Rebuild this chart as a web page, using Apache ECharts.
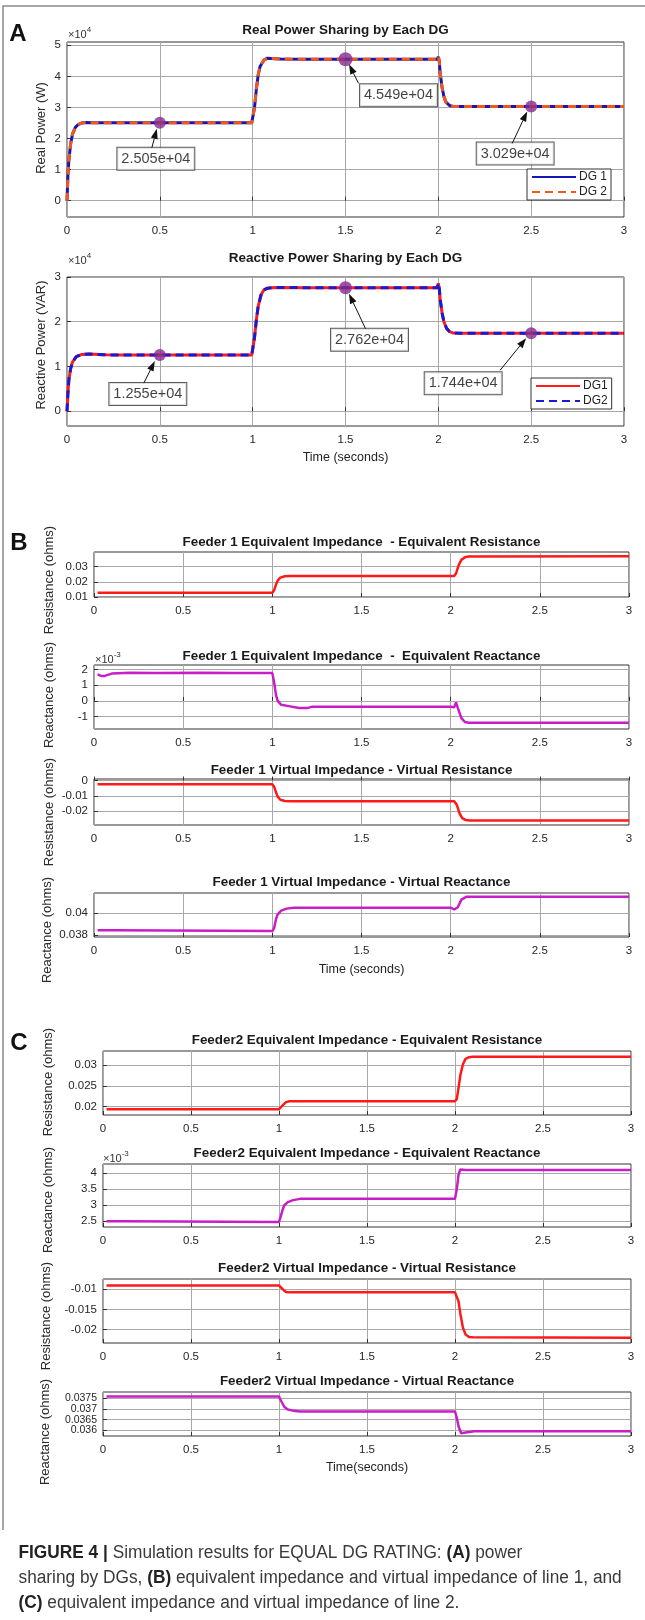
<!DOCTYPE html>
<html>
<head>
<meta charset="utf-8">
<script src="https://cdn.jsdelivr.net/npm/echarts@6/dist/echarts.min.js"></script>
<style>
  html, body { margin: 0; padding: 0; background: #fff; }
  #chart { width: 645px; height: 1620px; }
</style>
</head>
<body>
<div id="chart"></div>
<script>
// ---------- time axis ----------
const timeTicks = [0, 0.5, 1, 1.5, 2, 2.5, 3];

// ---------- (A) power sharing: [time s, value] ----------
const realPowerDG1 = [[0,0],[0.005,8000],[0.01,13000],[0.02,18500],[0.03,21500],[0.045,23600],[0.06,24500],[0.08,25000],[0.1,25120],[0.15,25080],[0.3,25050],[0.995,25050],[1.0,25150],[1.01,30000],[1.02,36000],[1.03,40500],[1.04,43200],[1.06,45200],[1.08,45850],[1.1,45750],[1.15,45550],[1.3,45490],[1.995,45490],[2.0,46300],[2.005,45000],[2.01,41000],[2.02,36500],[2.03,33500],[2.04,31800],[2.06,30600],[2.08,30320],[2.1,30290],[3.0,30290]];
const realPowerDG2 = [[0,0],[0.005,8000],[0.01,13000],[0.02,18500],[0.03,21500],[0.045,23600],[0.06,24500],[0.08,25000],[0.1,25120],[0.15,25080],[0.3,25050],[0.995,25050],[1.0,25150],[1.01,30000],[1.02,36000],[1.03,40500],[1.04,43200],[1.06,45200],[1.08,45850],[1.1,45750],[1.15,45550],[1.3,45490],[1.995,45490],[2.0,46300],[2.005,45000],[2.01,41000],[2.02,36500],[2.03,33500],[2.04,31800],[2.06,30600],[2.08,30320],[2.1,30290],[3.0,30290]];
const realPowerMarks = [[0.5,25050],[1.5,45490],[2.5,30290]];
const realPowerTicks = [0,10000,20000,30000,40000,50000];

const reactivePowerDG1 = [[0,0],[0.005,4000],[0.01,7000],[0.02,9600],[0.03,11000],[0.05,12200],[0.08,12700],[0.12,12800],[0.2,12620],[0.3,12550],[0.995,12550],[1.0,12650],[1.01,16500],[1.02,20500],[1.03,23500],[1.045,26000],[1.06,27100],[1.08,27500],[1.12,27650],[1.3,27620],[1.995,27620],[2.0,28600],[2.005,27500],[2.01,25000],[2.02,22000],[2.03,20000],[2.045,18500],[2.06,17800],[2.08,17500],[2.12,17440],[3.0,17440]];
const reactivePowerDG2 = [[0,0],[0.005,4000],[0.01,7000],[0.02,9600],[0.03,11000],[0.05,12200],[0.08,12700],[0.12,12800],[0.2,12620],[0.3,12550],[0.995,12550],[1.0,12650],[1.01,16500],[1.02,20500],[1.03,23500],[1.045,26000],[1.06,27100],[1.08,27500],[1.12,27650],[1.3,27620],[1.995,27620],[2.0,28600],[2.005,27500],[2.01,25000],[2.02,22000],[2.03,20000],[2.045,18500],[2.06,17800],[2.08,17500],[2.12,17440],[3.0,17440]];
const reactivePowerMarks = [[0.5,12550],[1.5,27620],[2.5,17440]];
const reactivePowerTicks = [0,10000,20000,30000];

// ---------- (B) feeder 1 impedances (ohms) ----------
const feeder1EqResistance = [[0.02,0.0128],[1.0,0.0128],[1.01,0.0145],[1.02,0.018],[1.03,0.0208],[1.045,0.0228],[1.07,0.0237],[1.1,0.0239],[2.02,0.0239],[2.03,0.0255],[2.045,0.031],[2.06,0.0345],[2.08,0.0362],[2.1,0.0368],[3.0,0.0369]];
const feeder1EqResistanceTicks = [0.01,0.02,0.03];

const feeder1EqReactance = [[0.02,0.0017],[0.04,0.0016],[0.06,0.0016],[0.1,0.00175],[0.2,0.0018],[0.35,0.00178],[0.6,0.0018],[0.8,0.00178],[1.0,0.00178],[1.01,0.0012],[1.02,0.0004],[1.03,0.0],[1.05,-0.00025],[1.1,-0.00035],[1.15,-0.00045],[1.2,-0.00045],[1.22,-0.00038],[2.0,-0.00038],[2.02,-0.0004],[2.03,-0.0001],[2.04,-0.00045],[2.06,-0.0011],[2.08,-0.00135],[2.1,-0.0014],[3.0,-0.0014]];
const feeder1EqReactanceTicks = [-0.001,0,0.001,0.002];

const feeder1VirtResistance = [[0.02,-0.0025],[1.0,-0.0025],[1.01,-0.004],[1.02,-0.0075],[1.03,-0.0105],[1.045,-0.0125],[1.07,-0.0133],[1.1,-0.0135],[2.02,-0.0135],[2.025,-0.013],[2.035,-0.016],[2.05,-0.0215],[2.065,-0.0245],[2.085,-0.0258],[2.11,-0.026],[3.0,-0.026]];
const feeder1VirtResistanceTicks = [-0.02,-0.01,0];

const feeder1VirtReactance = [[0.02,0.03842],[0.12,0.03842],[0.125,0.03834],[1.0,0.03834],[1.01,0.0386],[1.02,0.0394],[1.03,0.03985],[1.05,0.0402],[1.08,0.04038],[1.12,0.04046],[2.0,0.04046],[2.02,0.0403],[2.03,0.04012],[2.04,0.0405],[2.06,0.0412],[2.09,0.04147],[3.0,0.04147]];
const feeder1VirtReactanceTicks = [0.038,0.04];

// ---------- (C) feeder 2 impedances (ohms) ----------
const feeder2EqResistance = [[0.02,0.0194],[1.0,0.0194],[1.01,0.0198],[1.025,0.0205],[1.04,0.0211],[1.06,0.0213],[2.0,0.0213],[2.01,0.0218],[2.02,0.0245],[2.03,0.0275],[2.045,0.0302],[2.06,0.0315],[2.08,0.0319],[2.1,0.032],[3.0,0.032]];
const feeder2EqResistanceTicks = [0.02,0.025,0.03];

const feeder2EqReactance = [[0.02,0.0025],[0.12,0.0025],[0.13,0.00248],[1.0,0.00248],[1.01,0.00265],[1.02,0.00285],[1.03,0.003],[1.05,0.0031],[1.08,0.00316],[1.12,0.0032],[2.0,0.0032],[2.01,0.0035],[2.02,0.00395],[2.03,0.00412],[2.04,0.00415],[2.06,0.0041],[3.0,0.0041]];
const feeder2EqReactanceTicks = [0.0025,0.003,0.0035,0.004];

const feeder2VirtResistance = [[0.02,-0.0091],[1.0,-0.0091],[1.01,-0.0095],[1.025,-0.0102],[1.04,-0.0107],[1.06,-0.0108],[2.0,-0.0108],[2.01,-0.0112],[2.02,-0.013],[2.03,-0.016],[2.045,-0.0195],[2.06,-0.0212],[2.08,-0.0218],[2.1,-0.0219],[3.0,-0.022]];
const feeder2VirtResistanceTicks = [-0.02,-0.015,-0.01];

const feeder2VirtReactance = [[0.02,0.03757],[1.0,0.03757],[1.01,0.0374],[1.03,0.0371],[1.05,0.03697],[1.08,0.03692],[1.12,0.03688],[2.0,0.03688],[2.01,0.0366],[2.02,0.0362],[2.035,0.03588],[2.05,0.0359],[2.06,0.03595],[2.11,0.03597],[3.0,0.03597]];
const feeder2VirtReactanceTicks = [0.036,0.0365,0.037,0.0375];

// ---------- texts ----------
const plotTitles = [
  'Real Power Sharing by Each DG',
  'Reactive Power Sharing by Each DG',
  'Feeder 1 Equivalent Impedance  - Equivalent Resistance',
  'Feeder 1 Equivalent Impedance  -  Equivalent Reactance',
  'Feeder 1 Virtual Impedance - Virtual Resistance',
  'Feeder 1 Virtual Impedance - Virtual Reactance',
  'Feeder2 Equivalent Impedance - Equivalent Resistance',
  'Feeder2 Equivalent Impedance - Equivalent Reactance',
  'Feeder2 Virtual Impedance - Virtual Resistance',
  'Feeder2 Virtual Impedance - Virtual Reactance'
];
const yNames = ['Real Power (W)','Reactive Power (VAR)','Resistance (ohms)','Reactance (ohms)',
  'Resistance (ohms)','Reactance (ohms)','Resistance (ohms)','Reactance (ohms)','Resistance (ohms)','Reactance (ohms)'];

// ---------- layout ----------
const grids = [
  {left:67,  top:42,   width:557, height:175},
  {left:67,  top:277,  width:557, height:149},
  {left:94,  top:552,  width:535, height:45},
  {left:94,  top:665,  width:535, height:64},
  {left:94,  top:779,  width:535, height:46},
  {left:94,  top:893,  width:535, height:44},
  {left:103, top:1051, width:528, height:64},
  {left:103, top:1164, width:528, height:63},
  {left:103, top:1279, width:528, height:64},
  {left:103, top:1392, width:528, height:44}
];
const yAxes = [
  {min:-5250,   max:51050,   ticks:realPowerTicks,              unit:1e4},
  {min:-3300,   max:30000,   ticks:reactivePowerTicks,          unit:1e4},
  {min:0.01,    max:0.0397,  ticks:feeder1EqResistanceTicks,    unit:1},
  {min:-0.0018, max:0.0023,  ticks:feeder1EqReactanceTicks,     unit:1e-3},
  {min:-0.029,  max:0.001,   ticks:feeder1VirtResistanceTicks,  unit:1},
  {min:0.0378,  max:0.0418,  ticks:feeder1VirtReactanceTicks,   unit:1},
  {min:0.018,   max:0.0334,  ticks:feeder2EqResistanceTicks,    unit:1},
  {min:0.00232, max:0.00429, ticks:feeder2EqReactanceTicks,     unit:1e-3},
  {min:-0.0233, max:-0.0075, ticks:feeder2VirtResistanceTicks,  unit:1},
  {min:0.03575, max:0.03778, ticks:feeder2VirtReactanceTicks,   unit:1}
];
const titleY = [30, 258, 542, 656, 770, 882.5, 1040.5, 1153, 1268, 1381.5];
const yNamePos = [[41,128],[41,345],[49,580],[49,695],[49,812],[47,930],[48,1082],[48,1200],[46,1316],[45,1432]];

// data-tip boxes and arrows, offsets in px from each marker
const boxOffsetA1 = [[-4,36],[53,36],[-16,47]];
const boxOffsetA2 = [[-12,39],[24,52],[-68,50]];
const arrowA1 = [{tip:[-3,6],tail:[-8,25]},{tip:[3.5,5],tail:[13,24]},{tip:[-4,5],tail:[-19,37]}];
const arrowA2 = [{tip:[-5,6],tail:[-16,28]},{tip:[3.5,6],tail:[20,41]},{tip:[-5,5],tail:[-31,37]}];

const FONT = '"Liberation Sans", Arial, Helvetica, sans-serif';
const RED = '#ff1a1a';
const MAGENTA = '#c81ec8';

function tidy(v) { return String(parseFloat(v.toPrecision(6))); }
function sci(v) {
  const e = Math.floor(Math.log10(Math.abs(v)));
  const m = v / Math.pow(10, e);
  return m.toFixed(3) + 'e' + (e < 0 ? '-' : '+') + String(Math.abs(e)).padStart(2, '0');
}

const xAxis = grids.map((g, i) => ({
  type: 'value', gridIndex: i, min: 0, max: 3, interval: 0.5,
  axisLine: {show: false},
  axisTick: {show: true, inside: true, length: 4, lineStyle: {color: '#333'}},
  axisLabel: {fontSize: 11.5, color: '#262626', margin: 8, fontFamily: FONT,
    showMinLabel: true, showMaxLabel: true, formatter: v => tidy(v)},
  splitLine: {show: true, lineStyle: {color: '#a8a8a8', width: 1}}
}));

const yAxis = yAxes.map((a, i) => ({
  type: 'value', gridIndex: i, min: a.min, max: a.max,
  axisLine: {show: false},
  axisTick: {show: true, inside: true, length: 4, lineStyle: {color: '#333'}, customValues: a.ticks},
  axisLabel: {fontSize: i === 9 ? 10.5 : 11.5, color: '#262626', margin: 6, fontFamily: FONT,
    customValues: a.ticks, hideOverlap: false, formatter: v => tidy(v / a.unit)},
  splitLine: {show: true, lineStyle: {color: '#a8a8a8', width: 1}}
}));

function lineSeries(g, name, data, color, type, width) {
  return {type: 'line', name, xAxisIndex: g, yAxisIndex: g, data, symbol: 'none',
    lineStyle: {color, type, width}, itemStyle: {color}, z: 3, silent: true};
}
function markSeries(g, marks, offsets, sizes) {
  return {type: 'scatter', xAxisIndex: g, yAxisIndex: g, z: 6, silent: true,
    itemStyle: {color: '#84298e'},
    data: marks.map((p, i) => ({value: p, symbolSize: sizes[i],
      label: {show: true, position: 'inside', offset: offsets[i], formatter: d => sci(d.value[1]),
        fontSize: 14.5, fontFamily: FONT, color: '#111', backgroundColor: '#fff',
        borderColor: '#333', borderWidth: 1, padding: [4, 4, 3, 4]}}))};
}

const series = [
  lineSeries(0, 'DG 1', realPowerDG1, '#1616b4', 'solid', 3),
  lineSeries(0, 'DG 2', realPowerDG2, '#ee5a1e', [8, 5], 3),
  markSeries(0, realPowerMarks, boxOffsetA1, [12, 14, 12]),
  lineSeries(1, 'DG1', reactivePowerDG1, '#ff1c1c', 'solid', 3),
  lineSeries(1, 'DG2', reactivePowerDG2, '#1a1ad0', [8, 5], 3),
  markSeries(1, reactivePowerMarks, boxOffsetA2, [12, 13, 12]),
  lineSeries(2, 'Feeder 1 equivalent resistance', feeder1EqResistance, RED, 'solid', 2.5),
  lineSeries(3, 'Feeder 1 equivalent reactance', feeder1EqReactance, MAGENTA, 'solid', 2.5),
  lineSeries(4, 'Feeder 1 virtual resistance', feeder1VirtResistance, RED, 'solid', 2.5),
  lineSeries(5, 'Feeder 1 virtual reactance', feeder1VirtReactance, MAGENTA, 'solid', 2.5),
  lineSeries(6, 'Feeder 2 equivalent resistance', feeder2EqResistance, RED, 'solid', 2.5),
  lineSeries(7, 'Feeder 2 equivalent reactance', feeder2EqReactance, MAGENTA, 'solid', 2.5),
  lineSeries(8, 'Feeder 2 virtual resistance', feeder2VirtResistance, RED, 'solid', 2.5),
  lineSeries(9, 'Feeder 2 virtual reactance', feeder2VirtReactance, MAGENTA, 'solid', 2.5)
];

// legend shows the line only, no symbol
const legendStyle = {
  orient: 'vertical', selectedMode: false, backgroundColor: '#fff',
  borderColor: '#333', borderWidth: 1, padding: [2, 4, 2, 4], itemGap: 3,
  itemWidth: 44, itemHeight: 13,
  itemStyle: {opacity: 0},
  textStyle: {fontSize: 12, color: '#222', fontFamily: FONT, padding: [0, 0, 0, -2]}
};

// static texts and frame
const graphics = [];
graphics.push({type: 'polyline', silent: true, z: 0,
  shape: {points: [[645, 6], [3, 6], [3, 1530]]}, style: {stroke: '#8a8a8a', lineWidth: 1.5, fill: null}});
[['A', 18, 34], ['B', 19, 543], ['C', 19, 1043]].forEach(([t, x, y]) => graphics.push({
  type: 'text', x, y, silent: true,
  style: {text: t, fontSize: 24, fontWeight: 'bold', fontFamily: FONT, fill: '#111', align: 'center', verticalAlign: 'middle'}}));
plotTitles.forEach((t, i) => graphics.push({
  type: 'text', x: grids[i].left + grids[i].width / 2, y: titleY[i], silent: true,
  style: {text: t, fontSize: i < 2 ? 13.5 : 13.4, fontWeight: 'bold', fontFamily: FONT, fill: '#1a1a1a',
    align: 'center', verticalAlign: 'middle'}}));
yNames.forEach((t, i) => graphics.push({
  type: 'text', x: yNamePos[i][0], y: yNamePos[i][1], rotation: Math.PI / 2, silent: true,
  style: {text: t, fontSize: 13, fontFamily: FONT, fill: '#2a2a2a', align: 'center', verticalAlign: 'middle'}}));
[['4', 68, 33], ['4', 68, 259], ['-3', 95, 658], ['-3', 103, 1157]].forEach(([p, x, y]) => graphics.push({
  type: 'text', x, y, silent: true,
  style: {text: '{a|×10}{s|' + p + '}', fontFamily: FONT, fill: '#333', align: 'left', verticalAlign: 'middle',
    rich: {a: {fontSize: 11, fill: '#333', verticalAlign: 'bottom', lineHeight: 14},
           s: {fontSize: 8, fill: '#333', verticalAlign: 'top', lineHeight: 14}}}}));
[['Time (seconds)', 345.5, 458], ['Time (seconds)', 361.5, 970], ['Time(seconds)', 367, 1468]].forEach(([t, x, y]) => graphics.push({
  type: 'text', x, y, silent: true,
  style: {text: t, fontSize: 12.5, fontFamily: FONT, fill: '#222', align: 'center', verticalAlign: 'middle'}}));

const captionLines = [
  '{b|FIGURE 4 |} Simulation results for EQUAL DG RATING: {b|(A)} power',
  'sharing by DGs, {b|(B)} equivalent impedance and virtual impedance of line 1, and',
  '{b|(C)} equivalent impedance and virtual impedance of line 2.'
];
captionLines.forEach((t, i) => graphics.push({
  type: 'text', x: 18.5, y: 1553 + i * 25, scaleX: 0.96, silent: true,
  style: {text: t, fontSize: 18, fontFamily: FONT, fill: '#3a3a3a', align: 'left', verticalAlign: 'middle',
    rich: {b: {fontSize: 18, fontFamily: FONT, fontWeight: 'bold', fill: '#222'}}}}));

const chart = echarts.init(document.getElementById('chart'), null, {width: 645, height: 1620});
chart.setOption({
  animation: false,
  backgroundColor: '#fff',
  grid: grids.map(g => Object.assign({show: true, borderColor: '#333', borderWidth: 1, backgroundColor: '#fff', containLabel: false}, g)),
  xAxis, yAxis, series,
  legend: [
    Object.assign({data: ['DG 1', 'DG 2'], left: 527, top: 169}, legendStyle),
    Object.assign({data: ['DG1', 'DG2'], left: 531, top: 378}, legendStyle)
  ],
  graphic: graphics
});

// arrows from each data-tip box to its marker
function arrow(from, to) {
  const dx = to[0] - from[0], dy = to[1] - from[1];
  const len = Math.hypot(dx, dy), ux = dx / len, uy = dy / len;
  const hl = 10, hw = 3.5;
  const bx = to[0] - ux * hl, by = to[1] - uy * hl;
  return [
    {type: 'line', silent: true, z: 20, shape: {x1: from[0], y1: from[1], x2: bx, y2: by}, style: {stroke: '#111', lineWidth: 1}},
    {type: 'polygon', silent: true, z: 20, shape: {points: [to, [bx - uy * hw, by + ux * hw], [bx + uy * hw, by - ux * hw]]}, style: {fill: '#111'}}
  ];
}
const arrows = [];
realPowerMarks.forEach((p, i) => {
  const c = chart.convertToPixel({gridIndex: 0}, p);
  arrows.push(...arrow([c[0] + arrowA1[i].tail[0], c[1] + arrowA1[i].tail[1]], [c[0] + arrowA1[i].tip[0], c[1] + arrowA1[i].tip[1]]));
});
reactivePowerMarks.forEach((p, i) => {
  const c = chart.convertToPixel({gridIndex: 1}, p);
  arrows.push(...arrow([c[0] + arrowA2[i].tail[0], c[1] + arrowA2[i].tail[1]], [c[0] + arrowA2[i].tip[0], c[1] + arrowA2[i].tip[1]]));
});
chart.setOption({graphic: graphics.concat(arrows)});
</script>
</body>
</html>
